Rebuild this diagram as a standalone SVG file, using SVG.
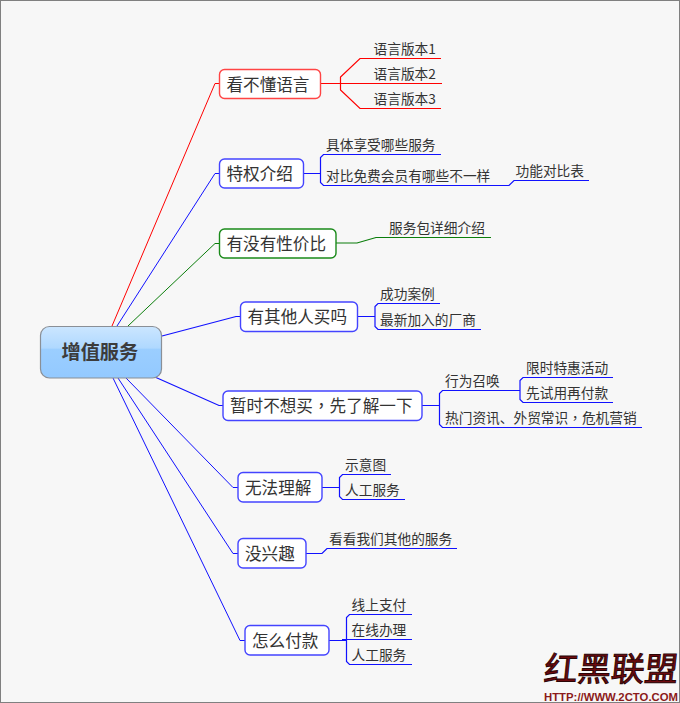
<svg xmlns="http://www.w3.org/2000/svg" width="680" height="703" viewBox="0 0 680 703">
  <defs>
    <linearGradient id="rootFill" x1="0" y1="0" x2="0" y2="1">
      <stop offset="0" stop-color="#cbe6ff"/>
      <stop offset="0.42" stop-color="#afd8ff"/>
      <stop offset="0.44" stop-color="#9bceff"/>
      <stop offset="1" stop-color="#93c9ff"/>
    </linearGradient>
  </defs>
  <style>
    text { font-family: "Noto Sans CJK SC", "Noto Sans", sans-serif; fill: #333; }
    .topic { fill: #fff; stroke-width: 1.4; }
    .t1 { font-size: 16.6px; }
    .t2 { font-size: 13.7px; }
    .root { font-size: 19.2px; font-weight: 700; fill: #3c3c3c; }
    .mid { font-family: "Noto Sans CJK TC", sans-serif; }
    .wire { fill: none; stroke-width: 1.2; }
    .trunk { fill: none; stroke-width: 1; }
    .r { stroke: #f00; }
    .b { stroke: #11f; }
    .g { stroke: #0a7d0a; }
  </style>

  <rect x="0.5" y="0.5" width="679" height="702" fill="#f7f7f7" stroke="#808080"/>

  <g id="connectors">
    <path class="trunk r" d="M112 326L215 83.5H219"/>
    <path class="trunk b" d="M117 326L215 173.5H219"/>
    <path class="trunk g" d="M128 326L215 243.5H219"/>
    <path class="wire b" d="M162 336L236 316.5H240"/>
    <path class="wire b" d="M156 377.5L219 405.5H223"/>
    <path class="trunk b" d="M126 378L233 487.5H238"/>
    <path class="trunk b" d="M118 378L233 553.5H238"/>
    <path class="trunk b" d="M113 378L240 640.5H245"/>

    <path class="wire r" d="M320 83.5H442M441 58.5H360L340.5 77V90L360 108.5H441"/>
    <path class="wire b" d="M303 173.5H320.5M441 154.5H323.5L320.5 157.5V182.5L323.5 185.5H509L514 180.5H589"/>
    <path class="wire g" d="M336 243H357L376 237.5H491"/>
    <path class="wire b" d="M357 316.5H375M440 303.5H378L375 306.5V326.5L378 329.5H481"/>
    <path class="wire b" d="M422 405.5H439.5M520 390.5H442.5L439.5 393.5V424.5L442.5 427.5H642"/>
    <path class="wire b" d="M613 377.5H523L520 380.5V399.5L523 402.5H613"/>
    <path class="wire b" d="M322 487.5H339.5M391 474.5H342.5L339.5 477.5V496.5L342.5 499.5H405"/>
    <path class="wire b" d="M306 553.5H322L327 548.5H457"/>
    <path class="wire b" d="M329 640.5H346.5M342 639.5H412M412 614.5H349.5L346.5 617.5V661.5L349.5 664.5H412"/>
  </g>

  <g id="root">
    <rect x="40.5" y="326.5" width="121" height="51.5" rx="9" fill="url(#rootFill)" stroke="#8a8f96" stroke-width="1.2"/>
    <text class="root" x="61.5" y="359">增值服务</text>
  </g>

  <g id="n1">
    <rect class="topic" x="219.5" y="69.5" width="101" height="29" rx="5" stroke="#f44"/>
    <text class="t1" x="226.5" y="90.5">看不懂语言</text>
  </g>
  <g id="n1-1"><text class="t2" x="373.5" y="54">语言版本1</text></g>
  <g id="n1-2"><text class="t2" x="373.5" y="79">语言版本2</text></g>
  <g id="n1-3"><text class="t2" x="373.5" y="104">语言版本3</text></g>

  <g id="n2">
    <rect class="topic" x="219.5" y="159" width="84" height="29" rx="5" stroke="#44f"/>
    <text class="t1" x="226.5" y="180">特权介绍</text>
  </g>
  <g id="n2-1"><text class="t2" x="326" y="150">具体享受哪些服务</text></g>
  <g id="n2-2"><text class="t2" x="326" y="181">对比免费会员有哪些不一样</text></g>
  <g id="n2-3"><text class="t2" x="515.5" y="176">功能对比表</text></g>

  <g id="n3">
    <rect class="topic" x="219.5" y="229" width="116.5" height="29" rx="5" stroke="#1a8a1a"/>
    <text class="t1" x="226.5" y="250">有没有性价比</text>
  </g>
  <g id="n3-1"><text class="t2" x="389" y="233">服务包详细介绍</text></g>

  <g id="n4">
    <rect class="topic" x="240.5" y="302" width="117" height="29.5" rx="5" stroke="#44f"/>
    <text class="t1" x="247.5" y="323">有其他人买吗</text>
  </g>
  <g id="n4-1"><text class="t2" x="380" y="299">成功案例</text></g>
  <g id="n4-2"><text class="t2" x="380" y="325">最新加入的厂商</text></g>

  <g id="n5">
    <rect class="topic" x="223" y="391" width="199" height="29.5" rx="5" stroke="#44f"/>
    <text class="t1" x="230" y="412">暂时不想买<tspan class="mid">，</tspan>先了解一下</text>
  </g>
  <g id="n5-1"><text class="t2" x="445" y="386">行为召唤</text></g>
  <g id="n5-2"><text class="t2" x="526" y="373">限时特惠活动</text></g>
  <g id="n5-3"><text class="t2" x="526" y="398">先试用再付款</text></g>
  <g id="n5-4"><text class="t2" x="445" y="423">热门资讯、外贸常识<tspan class="mid">，</tspan>危机营销</text></g>

  <g id="n6">
    <rect class="topic" x="238" y="472.5" width="84" height="29.5" rx="5" stroke="#44f"/>
    <text class="t1" x="245" y="494">无法理解</text>
  </g>
  <g id="n6-1"><text class="t2" x="345" y="470">示意图</text></g>
  <g id="n6-2"><text class="t2" x="345" y="495">人工服务</text></g>

  <g id="n7">
    <rect class="topic" x="238" y="538.5" width="68" height="29.5" rx="5" stroke="#44f"/>
    <text class="t1" x="245" y="560">没兴趣</text>
  </g>
  <g id="n7-1"><text class="t2" x="329" y="543.5">看看我们其他的服务</text></g>

  <g id="n8">
    <rect class="topic" x="245" y="625.5" width="84" height="29.5" rx="5" stroke="#44f"/>
    <text class="t1" x="252" y="647">怎么付款</text>
  </g>
  <g id="n8-1"><text class="t2" x="351.5" y="610">线上支付</text></g>
  <g id="n8-2"><text class="t2" x="351.5" y="635">在线办理</text></g>
  <g id="n8-3"><text class="t2" x="351.5" y="660">人工服务</text></g>

  <!-- site mark, lower right -->
  <g id="watermark">
    <text transform="translate(543 681) skewX(-6)" style="font-size:33.5px;fill:#6e0a0e;stroke:#2a0506;stroke-width:1">红黑联盟</text>
    <text x="544" y="700.5" textLength="134" lengthAdjust="spacingAndGlyphs" style="font-size:11.6px;font-weight:700;fill:#8b1a1a;font-family:'Liberation Sans',sans-serif">HTTP://WWW.2CTO.COM</text>
  </g>
</svg>
